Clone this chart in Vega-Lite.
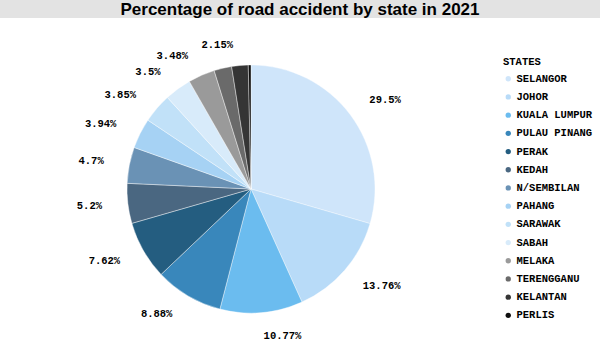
{
  "$schema": "https://vega.github.io/schema/vega-lite/v6.json",
  "background": "white",
  "padding": 0,
  "spacing": 0,
  "config": {"view": {"stroke": null}},
  "vconcat": [
    {
      "width": 600,
      "height": 18,
      "view": {"fill": "#e3e3e3", "stroke": null},
      "data": {"values": [{"title": "Percentage of road accident by state in 2021"}]},
      "mark": {"type": "text", "font": "Liberation Sans", "fontWeight": "bold", "fontSize": 17, "baseline": "middle", "align": "center", "dy": 1, "color": "black"},
      "encoding": {"text": {"field": "title"}}
    },
    {
      "width": 502,
      "height": 342,
      "data": {
        "values": [
          {"rank": 1, "state": "SELANGOR", "pct": 29.5, "label": "29.5%"},
          {"rank": 2, "state": "JOHOR", "pct": 13.76, "label": "13.76%"},
          {"rank": 3, "state": "KUALA LUMPUR", "pct": 10.77, "label": "10.77%"},
          {"rank": 4, "state": "PULAU PINANG", "pct": 8.88, "label": "8.88%"},
          {"rank": 5, "state": "PERAK", "pct": 7.62, "label": "7.62%"},
          {"rank": 6, "state": "KEDAH", "pct": 5.2, "label": "5.2%"},
          {"rank": 7, "state": "N/SEMBILAN", "pct": 4.7, "label": "4.7%"},
          {"rank": 8, "state": "PAHANG", "pct": 3.94, "label": "3.94%"},
          {"rank": 9, "state": "SARAWAK", "pct": 3.85, "label": "3.85%"},
          {"rank": 10, "state": "SABAH", "pct": 3.5, "label": "3.5%"},
          {"rank": 11, "state": "MELAKA", "pct": 3.48, "label": "3.48%"},
          {"rank": 12, "state": "TERENGGANU", "pct": 2.3, "label": ""},
          {"rank": 13, "state": "KELANTAN", "pct": 2.15, "label": "2.15%"},
          {"rank": 14, "state": "PERLIS", "pct": 0.35, "label": ""}
        ]
      },
      "layer": [
        {
          "mark": {"type": "arc", "outerRadius": 124, "stroke": "white", "strokeWidth": 0.4},
          "encoding": {
            "theta": {"field": "pct", "type": "quantitative", "stack": true},
            "order": {"field": "rank", "type": "quantitative"},
            "color": {
              "field": "state",
              "type": "nominal",
              "sort": ["SELANGOR", "JOHOR", "KUALA LUMPUR", "PULAU PINANG", "PERAK", "KEDAH", "N/SEMBILAN", "PAHANG", "SARAWAK", "SABAH", "MELAKA", "TERENGGANU", "KELANTAN", "PERLIS"],
              "scale": {
                "domain": ["SELANGOR", "JOHOR", "KUALA LUMPUR", "PULAU PINANG", "PERAK", "KEDAH", "N/SEMBILAN", "PAHANG", "SARAWAK", "SABAH", "MELAKA", "TERENGGANU", "KELANTAN", "PERLIS"],
                "range": ["#cfe5fa", "#b8dbf8", "#6bbcef", "#3987bb", "#245d80", "#4a6781", "#6a92b5", "#a6d2f4", "#c1e1f8", "#d8ebfa", "#9a9a9a", "#6a6a6a", "#353535", "#0f0f0f"]
              },
              "legend": {
                "title": "STATES",
                "orient": "none",
                "legendX": 503,
                "legendY": 57,
                "titleFont": "Liberation Mono",
                "titleFontWeight": "bold",
                "titleFontSize": 10.5,
                "titleColor": "black",
                "titlePadding": 6,
                "labelFont": "Liberation Mono",
                "labelFontWeight": "bold",
                "labelFontSize": 10.5,
                "labelColor": "black",
                "labelOffset": 3,
                "symbolType": "circle",
                "symbolSize": 28,
                "symbolStrokeWidth": 0,
                "rowPadding": 7.2
              }
            }
          }
        },
        {
          "mark": {"type": "text", "radius": 148, "align": "left", "baseline": "middle", "font": "Liberation Mono", "fontWeight": "bold", "fontSize": 10.5, "color": "black"},
          "encoding": {
            "theta": {"field": "pct", "type": "quantitative", "stack": true},
            "order": {"field": "rank", "type": "quantitative"},
            "text": {
              "condition": {"test": "indexof(['SELANGOR','JOHOR','KUALA LUMPUR'], datum.state) >= 0", "field": "label"},
              "value": ""
            }
          }
        },
        {
          "mark": {"type": "text", "radius": 145, "align": "right", "baseline": "middle", "dx": -5, "font": "Liberation Mono", "fontWeight": "bold", "fontSize": 10.5, "color": "black"},
          "encoding": {
            "theta": {"field": "pct", "type": "quantitative", "stack": true},
            "order": {"field": "rank", "type": "quantitative"},
            "text": {
              "condition": {"test": "indexof(['SELANGOR','JOHOR','KUALA LUMPUR'], datum.state) < 0", "field": "label"},
              "value": ""
            }
          }
        }
      ]
    }
  ]
}
